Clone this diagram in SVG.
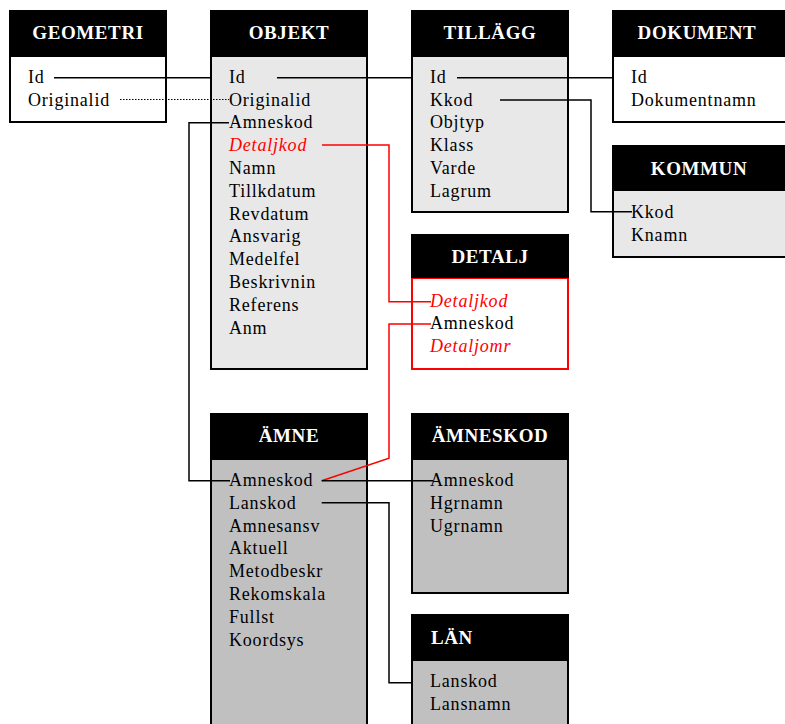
<svg xmlns="http://www.w3.org/2000/svg" width="785" height="724" viewBox="0 0 785 724">
<style>
.hdr{fill:#000}
.body{stroke:#000;stroke-width:2}
.w{fill:#fff}
.lg{fill:#e8e8e8}
.dg{fill:#c0c0c0}
.ht{font-family:"Liberation Serif",serif;font-weight:bold;font-size:19px;fill:#fff;letter-spacing:0.6px;text-anchor:middle}
.t{font-family:"Liberation Serif",serif;font-size:18px;fill:#000;letter-spacing:0.8px}
.r{fill:#ff0000;font-style:italic}
.c{fill:none;stroke:#000;stroke-width:1.5}
.cr{fill:none;stroke:#ff0000;stroke-width:1.5}
.cd{fill:none;stroke:#000;stroke-width:1.2;stroke-dasharray:1.5 1.5}
</style>
<rect width="785" height="724" fill="#fff"/>
<g id="geometri">
<rect class="body w" x="10" y="56" width="156" height="66"/>
<rect class="hdr" x="9" y="10" width="158" height="46"/>
<text class="ht" x="88" y="39">GEOMETRI</text>
<text class="t" x="28" y="82.7">Id</text>
<text class="t" x="28" y="105.5">Originalid</text>
</g>
<g id="objekt">
<rect class="body lg" x="211" y="56" width="156" height="313"/>
<rect class="hdr" x="210" y="10" width="158" height="46"/>
<text class="ht" x="289" y="39">OBJEKT</text>
<text class="t" x="229" y="82.7">Id</text>
<text class="t" x="229" y="105.5">Originalid</text>
<text class="t" x="229" y="128.3">Amneskod</text>
<text class="t r" x="229" y="151.1">Detaljkod</text>
<text class="t" x="229" y="173.9">Namn</text>
<text class="t" x="229" y="196.7">Tillkdatum</text>
<text class="t" x="229" y="219.5">Revdatum</text>
<text class="t" x="229" y="242.3">Ansvarig</text>
<text class="t" x="229" y="265.1">Medelfel</text>
<text class="t" x="229" y="287.9">Beskrivnin</text>
<text class="t" x="229" y="310.7">Referens</text>
<text class="t" x="229" y="333.5">Anm</text>
</g>
<g id="tillagg">
<rect class="body lg" x="412" y="56" width="156" height="156"/>
<rect class="hdr" x="411" y="10" width="158" height="46"/>
<text class="ht" x="490" y="39">TILLÄGG</text>
<text class="t" x="430" y="82.7">Id</text>
<text class="t" x="430" y="105.5">Kkod</text>
<text class="t" x="430" y="128.3">Objtyp</text>
<text class="t" x="430" y="151.1">Klass</text>
<text class="t" x="430" y="173.9">Varde</text>
<text class="t" x="430" y="196.7">Lagrum</text>
</g>
<g id="dokument">
<rect class="body w" x="613" y="56" width="190" height="66"/>
<rect class="hdr" x="612" y="10" width="190" height="46"/>
<text class="ht" x="697" y="39">DOKUMENT</text>
<text class="t" x="631" y="82.7">Id</text>
<text class="t" x="631" y="105.5">Dokumentnamn</text>
</g>
<g id="kommun">
<rect class="body lg" x="613" y="190" width="190" height="67"/>
<rect class="hdr" x="612" y="145" width="190" height="45"/>
<text class="ht" x="699" y="174.7">KOMMUN</text>
<text class="t" x="631" y="217.8">Kkod</text>
<text class="t" x="631" y="240.6">Knamn</text>
</g>
<g id="detalj">
<rect x="412" y="278" width="156" height="91" fill="#fff" stroke="#ff0000" stroke-width="2"/>
<rect class="hdr" x="411" y="234" width="158" height="44"/>
<text class="ht" x="490" y="262.7">DETALJ</text>
<text class="t r" x="430" y="306.7">Detaljkod</text>
<text class="t" x="430" y="329.3">Amneskod</text>
<text class="t r" x="430" y="352">Detaljomr</text>
</g>
<g id="amne">
<rect class="body dg" x="211" y="459" width="156" height="280"/>
<rect class="hdr" x="210" y="413" width="158" height="46"/>
<text class="ht" x="289" y="441.7">ÄMNE</text>
<text class="t" x="229" y="486">Amneskod</text>
<text class="t" x="229" y="508.8">Lanskod</text>
<text class="t" x="229" y="531.6">Amnesansv</text>
<text class="t" x="229" y="554.4">Aktuell</text>
<text class="t" x="229" y="577.2">Metodbeskr</text>
<text class="t" x="229" y="600">Rekomskala</text>
<text class="t" x="229" y="622.8">Fullst</text>
<text class="t" x="229" y="645.6">Koordsys</text>
</g>
<g id="amneskod">
<rect class="body dg" x="412" y="459" width="156" height="134"/>
<rect class="hdr" x="411" y="413" width="158" height="46"/>
<text class="ht" x="490" y="441.7">ÄMNESKOD</text>
<text class="t" x="430" y="486">Amneskod</text>
<text class="t" x="430" y="508.8">Hgrnamn</text>
<text class="t" x="430" y="531.6">Ugrnamn</text>
</g>
<g id="lan">
<rect class="body dg" x="412" y="660" width="156" height="80"/>
<rect class="hdr" x="411" y="614" width="158" height="46"/>
<text class="ht" x="431" y="644.3" style="text-anchor:start">LÄN</text>
<text class="t" x="430" y="686.7">Lanskod</text>
<text class="t" x="430" y="709.5">Lansnamn</text>
</g>
<g id="connectors">
<path class="c" d="M54 77.7H210"/>
<path class="cd" d="M120 99.5H229"/>
<path class="c" d="M277 77.7H411"/>
<path class="c" d="M457 77.7H612"/>
<path class="c" d="M500 100H591V211.7H632"/>
<path class="c" d="M229 122.7H189V480.7H230"/>
<path class="cr" d="M322 145H389V301.7H431"/>
<path class="cr" d="M431 324H389V458.3L321.7 480.7"/>
<path class="c" d="M321.7 480.7H433"/>
<path class="c" d="M321.7 502.7H389V682.7H411.7"/>
</g>
</svg>
